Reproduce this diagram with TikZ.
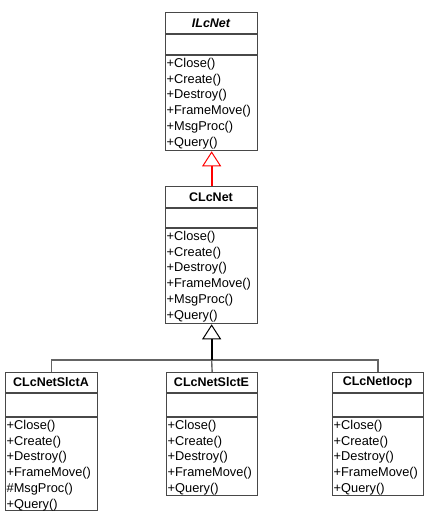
\documentclass[tikz,border=0pt]{standalone}
\usepackage{fontspec}
\setmainfont{Liberation Sans}
\usetikzlibrary{arrows.meta}
\definecolor{boxline}{RGB}{72,72,72}
\definecolor{connline}{RGB}{100,100,100}
\tikzset{
  classbox/.style={draw=boxline, line width=1.3pt, fill=white, inner sep=0pt, rectangle},
  classline/.style={draw=boxline, line width=1.3pt},
  titletext/.style={inner sep=0pt, font=\fontsize{12.5}{15}\selectfont\bfseries},
  methodtext/.style={inner sep=0pt, font=\fontsize{12.8}{15}\selectfont},
  inherit/.style={line width=2pt, -{Triangle[open, width=19pt, length=15pt, line width=1pt]}},
  conn/.style={draw=connline, line width=1.4pt},
}
\newcommand\umlclass[9]{%
  \pgfmathsetmacro\bw{#3-#2}\pgfmathsetmacro\bh{#5-#4}%
  \node[classbox, minimum width=\bw pt, minimum height=\bh pt, anchor=north west] (#1) at (#2,#4) {};
  \draw[classline] (#2,#6) -- (#3,#6) (#2,#7) -- (#3,#7);
  \node[titletext] (#1-title) at ({(#2+#3)/2},{(#4+#6)/2}) {#8};
  \foreach \m [count=\i] in {#9} {
    \node[methodtext, anchor=base west] (#1-m\i) at (#2+1.5, {#7+12.5+(\i-1)*15.7}) {\m};
  }
}
\begin{document}
\begin{tikzpicture}[x=1pt, y=-1pt]
\useasboundingbox (0,0) rectangle (430,517);
\umlclass{ilcnet}{165}{257}{12}{150}{34}{55}{\itshape ILcNet}{+Close(),+Create(),+Destroy(),+FrameMove(),+MsgProc(),+Query()}
\umlclass{clcnet}{165}{257}{186}{323}{208}{228}{CLcNet}{+Close(),+Create(),+Destroy(),+FrameMove(),+MsgProc(),+Query()}
\umlclass{slcta}{5}{97}{372}{510}{393}{417}{CLcNetSlctA}{+Close(),+Create(),+Destroy(),+FrameMove(),\#MsgProc(),+Query()}
\umlclass{slcte}{166}{257}{372}{495}{393}{417}{CLcNetSlctE}{+Close(),+Create(),+Destroy(),+FrameMove(),+Query()}
\umlclass{iocp}{332}{423}{372}{495}{393}{417}{CLcNetIocp}{+Close(),+Create(),+Destroy(),+FrameMove(),+Query()}
\coordinate (junction) at (clcnet.south |- 0,360);
\draw[conn] (slcta.north) |- (junction) -| (iocp.north);
\draw[conn] (junction) -- (slcte.north);
\draw[inherit, red] (clcnet.north) -- (ilcnet.south);
\draw[inherit, black] (junction) -- (clcnet.south);
\end{tikzpicture}
\end{document}
